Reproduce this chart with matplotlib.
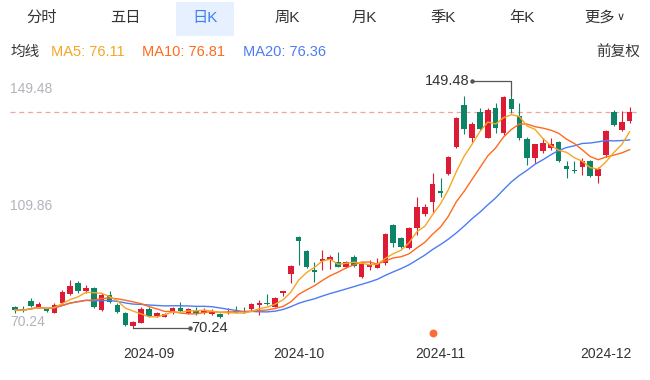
import numpy as np
import pandas as pd
import matplotlib
matplotlib.use("Agg")
import matplotlib.pyplot as plt
import matplotlib.transforms as mtrans

plt.rcParams['font.family'] = ['Liberation Sans', 'Noto Sans CJK SC', 'DejaVu Sans']

tabs = ['分时', '五日', '日K', '周K', '月K', '季K', '年K', '更多']
tab_x = [42, 125, 205, 287, 364, 443, 522, 600]
tab_sel = 2
ma_labels = ['MA5: 76.11', 'MA10: 76.81', 'MA20: 76.36']

date_ticks = [17, 36, 54, 75]
date_labels = ['2024-09', '2024-10', '2024-11', '2024-12']
event_idx = 53

opens = [77.28, 76.70, 79.52, 77.48, 76.60, 75.44, 78.64, 81.80, 85.54, 82.92,
         83.84, 76.36, 81.46, 78.06, 75.34, 70.92, 72.04, 76.70, 74.32, 74.08,
         75.58, 77.14, 75.24, 76.02, 75.24, 74.90, 74.90, 75.24, 76.12, 76.12,
         76.53, 78.06, 78.84, 77.48, 82.04, 88.50, 101.02, 96.42, 89.96, 93.02,
         93.47, 92.58, 90.88, 94.38, 87.68, 90.88, 90.74, 92.35, 105.27, 100.74,
         97.45, 104.15, 109.01, 112.99, 116.83, 122.61, 131.90, 146.08, 134.96, 143.60,
         134.96, 145.16, 136.46, 148.02, 142.34, 134.62, 128.16, 130.43, 131.35, 133.60,
         125.33, 123.97, 125.10, 127.14, 121.93, 129.07, 143.80, 137.68, 140.74]
highs = [77.72, 77.72, 80.34, 78.98, 77.14, 78.84, 83.16, 86.56, 86.22, 84.86,
         84.18, 82.14, 82.92, 78.64, 75.68, 72.62, 77.48, 77.28, 75.68, 75.34,
         77.48, 78.98, 76.94, 77.28, 76.94, 76.60, 75.44, 76.94, 77.72, 77.28,
         78.74, 79.76, 81.70, 80.78, 82.92, 91.66, 101.36, 96.76, 92.68, 96.59,
         94.90, 96.19, 93.02, 94.90, 92.58, 93.26, 94.04, 102.38, 105.61, 101.29,
         104.69, 114.69, 112.41, 122.85, 121.15, 128.56, 142.00, 149.24, 140.30, 145.16,
         144.96, 146.66, 149.24, 149.48, 146.76, 135.30, 132.82, 134.96, 134.96, 133.84,
         127.03, 127.14, 127.95, 127.37, 125.00, 137.58, 144.21, 144.04, 145.50]
lows = [75.44, 75.68, 77.28, 77.14, 75.68, 75.24, 78.40, 81.46, 82.24, 82.24,
        77.04, 76.02, 78.64, 75.24, 70.92, 70.24, 71.84, 74.08, 73.98, 73.88,
        75.00, 75.78, 74.90, 74.66, 75.00, 74.56, 73.54, 74.90, 75.24, 75.24,
        76.02, 74.66, 78.06, 77.38, 81.12, 85.64, 91.66, 90.64, 85.98, 89.96,
        90.30, 90.98, 90.54, 90.98, 87.24, 89.96, 90.54, 91.66, 97.68, 97.34,
        97.11, 101.87, 108.33, 109.45, 114.89, 122.27, 131.35, 136.11, 133.60, 137.58,
        134.75, 136.46, 135.88, 143.36, 134.18, 125.67, 126.25, 129.65, 130.78, 126.52,
        121.25, 123.06, 122.27, 121.42, 119.45, 128.39, 138.94, 137.24, 139.86]
closes = [76.36, 76.19, 77.72, 78.30, 75.92, 78.06, 82.58, 84.62, 82.92, 83.74,
          77.38, 81.46, 79.18, 75.68, 71.26, 72.28, 76.70, 74.42, 75.24, 75.00,
          77.14, 76.12, 76.70, 75.44, 76.02, 75.58, 74.08, 75.78, 75.44, 75.58,
          78.40, 78.84, 78.40, 80.44, 82.82, 91.43, 99.66, 90.98, 89.38, 93.60,
          94.49, 91.09, 92.58, 91.22, 92.00, 91.66, 92.45, 102.21, 99.15, 97.89,
          104.25, 111.29, 111.49, 119.11, 116.25, 128.39, 141.56, 137.92, 139.52, 137.92,
          144.38, 138.36, 148.63, 144.62, 134.86, 128.05, 132.71, 132.99, 132.71, 127.03,
          124.42, 123.46, 127.14, 121.93, 124.31, 137.07, 139.28, 140.40, 143.80]

RED = '#DD1B35'
GREEN = '#0E8466'
C_MA5 = '#F6A623'
C_MA10 = '#FF6A1E'
C_MA20 = '#4C7CF5'

o = np.array(opens); h = np.array(highs); l = np.array(lows); c = np.array(closes)
idx = np.arange(len(c))
cs = pd.Series(c)
ma5 = cs.rolling(5, min_periods=1).mean()
ma10 = cs.rolling(10, min_periods=1).mean()
ma20 = cs.rolling(20, min_periods=1).mean()

W, H = 650, 380
fig = plt.figure(figsize=(6.5, 3.8), dpi=100)
fig.patch.set_facecolor('white')

# chart area: full width, pixel rows 62..372
ax = fig.add_axes([0, (H - 372) / H, 1, (372 - 62) / H])
ax.set_axis_off()
step = 7.88
ax.set_xlim(-15 / step, (W - 15) / step)
hi, lo = h.max(), l.min()
span = hi - lo
ax.set_ylim(lo - 0.189 * span, hi + 0.1416 * span)

up = c >= o
cols = np.where(up, RED, GREEN)
ax.vlines(idx, l, h, colors=cols, linewidth=0.8, zorder=2)
body_lo = np.minimum(o, c)
body_h = np.maximum(np.abs(c - o), 0.35)
ax.bar(idx, body_h, bottom=body_lo, width=0.7, color=cols, linewidth=0, zorder=3)

ax.plot(idx, ma20, color=C_MA20, lw=1.0, zorder=4)
ax.plot(idx, ma10, color=C_MA10, lw=1.0, zorder=4)
ax.plot(idx, ma5, color=C_MA5, lw=1.0, zorder=4)

# last price line
ax.axhline(c[-1], xmin=10 / W, xmax=640 / W, color='#F4A3A3', lw=0.9,
           dashes=(4, 3), zorder=1)

# y labels: max, mid, min
ylab_tr = mtrans.blended_transform_factory(fig.transFigure, ax.transData)
for v in [hi, (hi + lo) / 2, lo]:
    ax.annotate(f'{v:.2f}', xy=(10 / W, v), xycoords=ylab_tr, xytext=(0, -1),
                textcoords='offset points', ha='left', va='bottom',
                fontsize=10, color='#B3B3BC')

# date labels
dtr = mtrans.blended_transform_factory(ax.transData, fig.transFigure)
for i, lab in zip(date_ticks, date_labels):
    ax.text(i, 1 - 354 / H, lab, transform=dtr, ha='center', va='center',
            fontsize=10, color='#333333')

# max marker
imax = int(np.argmax(h))
ytop = hi + 0.06 * span
ax.plot([imax, imax, imax - 5], [hi, ytop, ytop], color='#555555', lw=0.9, zorder=5)
ax.plot([imax - 5], [ytop], marker='o', ms=2.2, color='#555555', zorder=5)
ax.text(imax - 5.3, ytop, f'{hi:.2f}', ha='right', va='center', fontsize=10.5,
        color='#333333')

# min marker
imin = int(np.argmin(l))
ax.plot([imin, imin + 7.2], [lo, lo], color='#555555', lw=0.9, zorder=5)
ax.plot([imin + 7.2], [lo], marker='o', ms=2.2, color='#555555', zorder=5)
ax.text(imin + 7.4, lo, f'{lo:.2f}', ha='left', va='center', fontsize=10.5,
        color='#333333')

ax.scatter([event_idx], [lo - 0.022 * span], s=22, color='#FF6A3A', zorder=5)

# tab bar
sel = plt.Rectangle((176 / W, 1 - 36 / H), 58 / W, 34 / H, transform=fig.transFigure,
                    facecolor='#E6F0FE', edgecolor='none', zorder=0)
fig.patches.append(sel)
for k, (t, x) in enumerate(zip(tabs, tab_x)):
    fig.text(x / W, 1 - 18 / H, t, ha='center', va='center', fontsize=11,
             color='#3D7EF5' if k == tab_sel else '#333333')
fig.text(621 / W, 1 - 17 / H, '∨', ha='center', va='center', fontsize=8,
         color='#333333', family='DejaVu Sans')

# MA header row
fig.text(10 / W, 1 - 52 / H, '均线', ha='left', va='center', fontsize=10.5, color='#333333')
for x, t, col in zip([51, 142, 243], ma_labels, [C_MA5, C_MA10, C_MA20]):
    fig.text(x / W, 1 - 52 / H, t, ha='left', va='center', fontsize=10.5, color=col)
fig.text(640 / W, 1 - 52 / H, '前复权', ha='right', va='center', fontsize=10.5, color='#333333')

fig.savefig('out.png', dpi=100)
